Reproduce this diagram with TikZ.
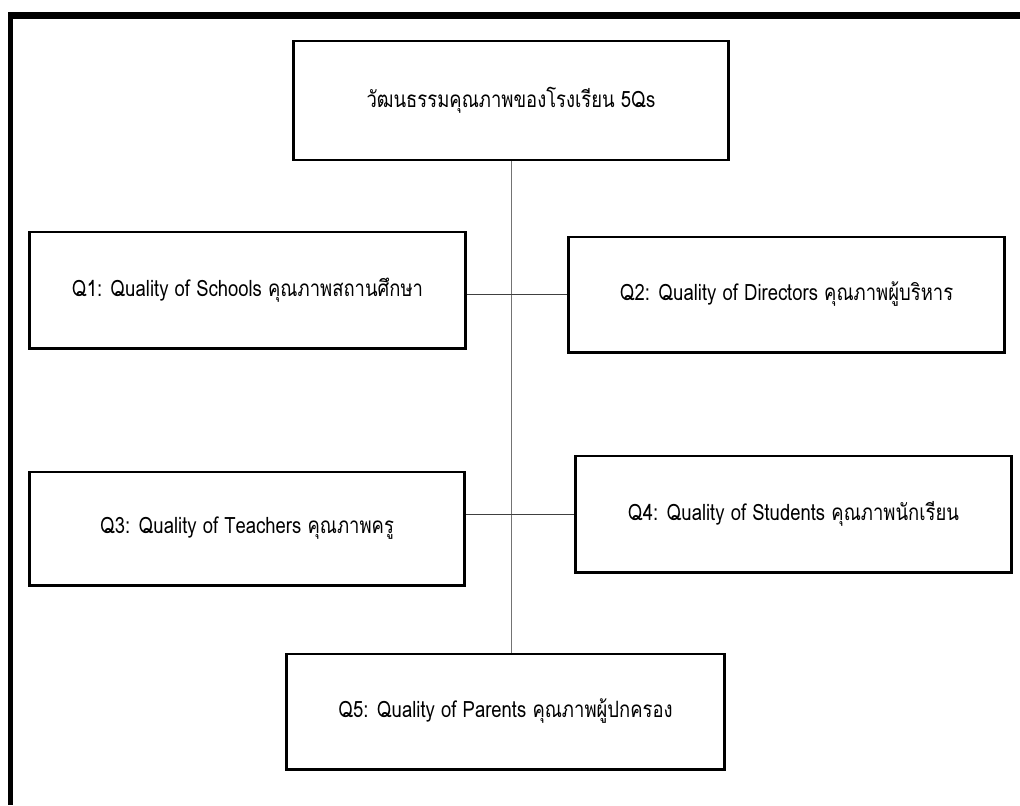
\documentclass[tikz,border=0pt]{standalone}
\usepackage{fontspec}
\setmainfont[Script=Thai, FakeStretch=0.82]{Loma}
\begin{document}
\begin{tikzpicture}[x=0.025cm,y=-0.025cm,
  qbox/.style={draw=black, line width=2.1pt, fill=white, inner sep=0pt,
    align=center, font=\fontsize{16}{18}\selectfont},
  link/.style={draw=black!75, line width=0.6pt},
  spine/.style={draw=black!55, line width=0.6pt}]
\useasboundingbox (0,0) rectangle (1020,805);
% frame along the top and the left side
\fill[black] (8,12) rectangle (1020,19);
\fill[black] (8,12) rectangle (13,805);
% the six boxes
\node[qbox, minimum width=10.85cm, minimum height=2.975cm] (top) at (511,100.5)
  {วัฒนธรรมคุณภาพของโรงเรียน 5Qs};
\node[qbox, minimum width=10.875cm, minimum height=2.9cm] (q1) at (247.5,290)
  {Q1: Quality of Schools คุณภาพสถานศึกษา};
\node[qbox, minimum width=10.875cm, minimum height=2.875cm] (q2) at (786.5,294.5)
  {Q2: Quality of Directors คุณภาพผู้บริหาร};
\node[qbox, minimum width=10.85cm, minimum height=2.825cm] (q3) at (247,528.5)
  {Q3: Quality of Teachers คุณภาพครู};
\node[qbox, minimum width=10.875cm, minimum height=2.9cm] (q4) at (793.5,514)
  {Q4: Quality of Students คุณภาพนักเรียน};
\node[qbox, minimum width=10.925cm, minimum height=2.875cm] (q5) at (505.5,711.5)
  {Q5: Quality of Parents คุณภาพผู้ปกครอง};
% connectors
\coordinate (spineEnd) at (top.south |- q5.north);
\draw[spine] (top.south) -- (spineEnd);
\draw[link] (q1.east |- q2.west) -- (q2.west);
\draw[link] (q3.east |- q4.west) -- (q4.west);
\end{tikzpicture}
\end{document}
